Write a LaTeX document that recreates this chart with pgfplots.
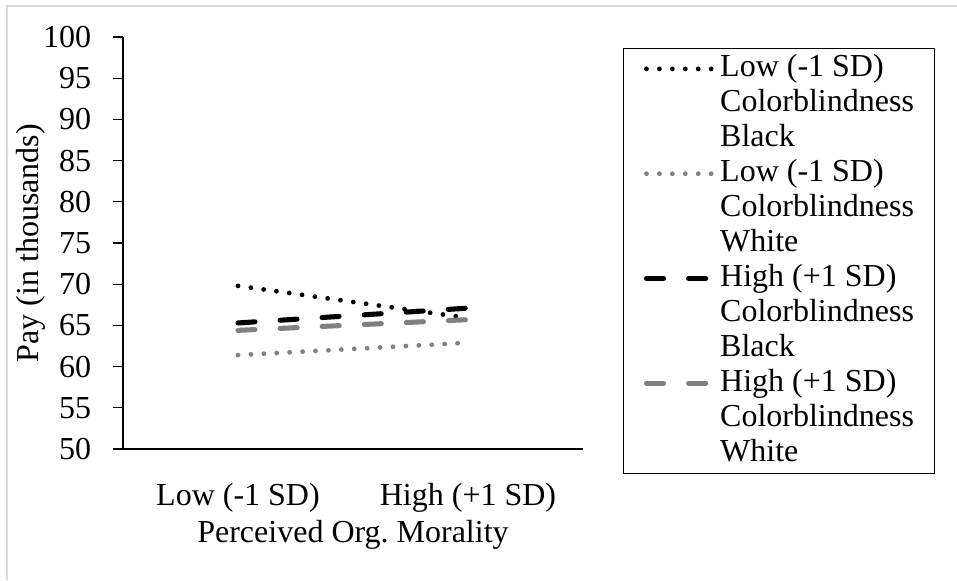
\documentclass[border=0pt]{standalone}
\usepackage{fontspec}
\setmainfont{Liberation Serif}
\usepackage{pgfplots}
\pgfplotsset{compat=1.18}
\usepackage{pgfplotstable}

% Predicted pay at low / high perceived organizational morality
% x = 0 : Low (-1 SD), x = 1 : High (+1 SD)
\pgfplotstableread{
x  lowblack  lowwhite  highblack  highwhite
0  69.8      61.4      65.3       64.4
1  65.9      62.9      67.1       65.7
}\paydata

\definecolor{framegray}{RGB}{217,217,217}
\definecolor{midgray}{RGB}{128,128,128}

\tikzset{
  dotline/.style={line width=1.8pt, line cap=round, dash pattern=on 0pt off 4.85pt},
  dashline/.style={line width=1.9pt, line cap=round, dash pattern=on 6.4pt off 9.4pt},
}

\begin{document}
\frenchspacing
\begin{tikzpicture}[font=\fontsize{12}{13}\selectfont]
% chart area (1px = 0.375pt)
\path[use as bounding box] (0,0) rectangle (358.875pt,-217.5pt);
\draw[framegray, line width=0.75pt] (2.44pt,-217.5pt) -- (2.44pt,-2.06pt) -- (358.875pt,-2.06pt);

\begin{axis}[
  at={(46.125pt,-168.375pt)}, anchor=south west,
  scale only axis, width=172.5pt, height=154.5pt,
  xmin=-0.5, xmax=1.5, ymin=50, ymax=100,
  axis x line*=bottom, axis y line*=left,
  axis line style={line width=0.5pt, -},
  xtick={0,1}, xticklabels={Low (-1 SD), High (+1 SD)},
  x tick style={draw=none},
  ytick={50,55,...,100},
  y tick style={line width=0.5pt, black},
  tick align=outside, major tick length=3.75pt,
  /pgf/number format/assume math mode=true,
  yticklabel style={anchor=east, inner xsep=0pt, xshift=-8pt},
  xticklabel style={anchor=base, yshift=-17.25pt},
  xlabel={Perceived Org. Morality},
  ylabel={Pay (in thousands)},
  every axis x label/.style={at={(axis description cs:0.5,0)}, anchor=base, yshift=-35pt},
  every axis y label/.style={at={(axis description cs:-0.201,0.5)}, rotate=90, anchor=center},
  legend style={
    at={(1,1)}, anchor=north west, xshift=14.9pt, yshift=-4.1pt,
    draw=black, line width=0.5pt, fill=white,
    inner xsep=7.7pt, inner ysep=1pt, row sep=0pt,
    nodes={inner xsep=0pt, inner ysep=0pt, text height=9.6pt, text depth=3.5pt, anchor=base west},
    /tikz/every odd column/.append style={column sep=2.3pt},
  },
  legend cell align=left,
  legend image code/.code={\draw[#1] (0pt,0.3em) -- (24.4pt,0.3em);},
]
\addplot[black, dotline] table[x=x, y=lowblack] {\paydata};
\addlegendentry{Low (-1 SD)}
\addlegendimage{empty legend}\addlegendentry{Colorblindness}
\addlegendimage{empty legend}\addlegendentry{Black}

\addplot[midgray, dotline] table[x=x, y=lowwhite] {\paydata};
\addlegendentry{Low (-1 SD)}
\addlegendimage{empty legend}\addlegendentry{Colorblindness}
\addlegendimage{empty legend}\addlegendentry{White}

\addplot[black, dashline] table[x=x, y=highblack] {\paydata};
\addlegendentry{High (+1 SD)}
\addlegendimage{empty legend}\addlegendentry{Colorblindness}
\addlegendimage{empty legend}\addlegendentry{Black}

\addplot[midgray, dashline] table[x=x, y=highwhite] {\paydata};
\addlegendentry{High (+1 SD)}
\addlegendimage{empty legend}\addlegendentry{Colorblindness}
\addlegendimage{empty legend}\addlegendentry{White}
\end{axis}
\end{tikzpicture}
\end{document}
